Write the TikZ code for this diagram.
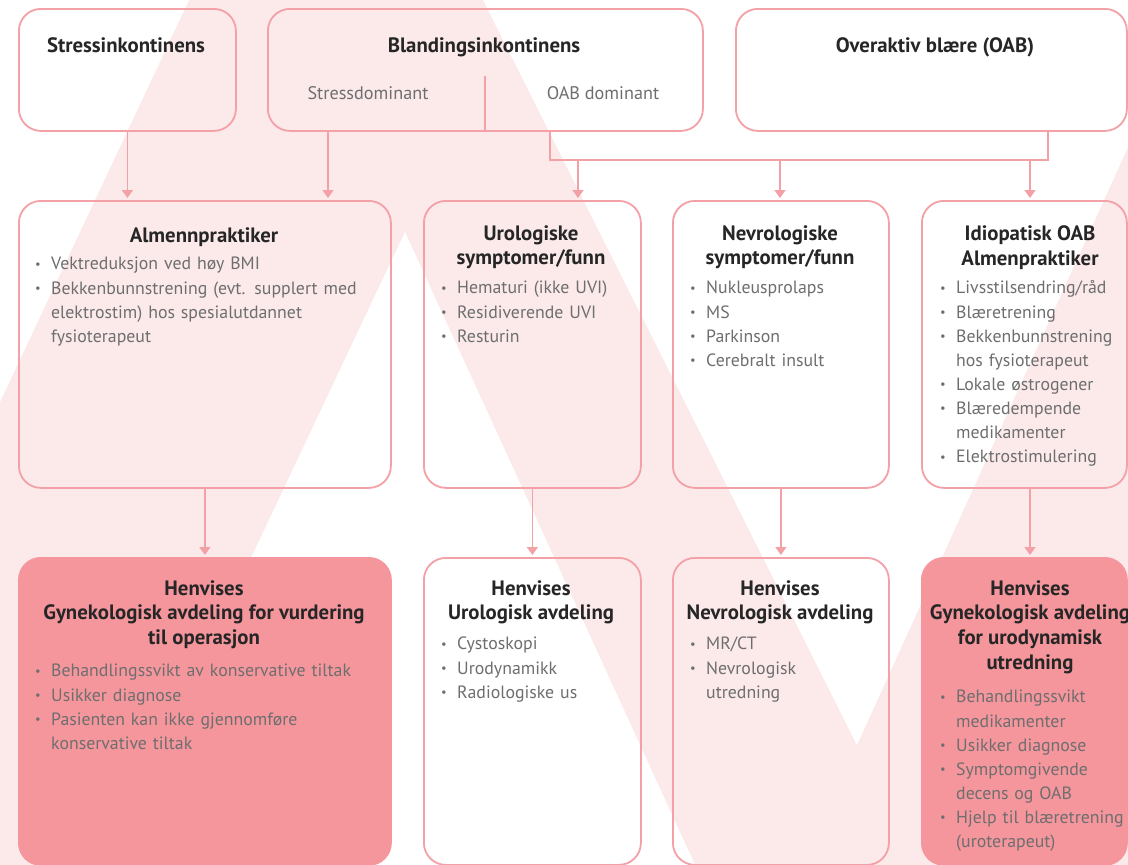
\documentclass[tikz,border=0pt]{standalone}
\usepackage{fontspec}
\setmainfont{PT Sans}
\usetikzlibrary{arrows.meta, positioning}

\definecolor{wmPink}{HTML}{FCEAEB}
\definecolor{lineRed}{HTML}{F3A1A7}
\definecolor{boxRed}{HTML}{F5969D}
\definecolor{titleGray}{HTML}{262626}
\definecolor{itemGray}{HTML}{6E6E6E}

% bullet item with hanging indent
\newcommand{\itm}[1]{\par\hangindent=16pt\hangafter=1\noindent\strut\makebox[16pt][l]{\raisebox{1.5pt}{\scalebox{0.7}{\textbullet}}}#1\par}

\begin{document}
\begin{tikzpicture}[
    x=1pt, y=-1pt,
    box/.style={draw=lineRed, line width=1.8pt, rounded corners=22pt, anchor=north west, inner sep=0pt},
    fullbox/.style={box, draw=boxRed, fill=boxRed},
    title/.style={font=\bfseries\fontsize{20.8}{24.6}\selectfont, text=titleGray, align=center, inner sep=0pt, anchor=north, yshift=14.6pt, execute at begin node=\strut},
    sub/.style={font=\fontsize{18.2}{20}\selectfont, text=itemGray, inner sep=0pt, anchor=base},
    items/.style={font=\fontsize{17.8}{24.1}\selectfont, text=itemGray, text width=#1, align=left, inner sep=0pt, anchor=north west, yshift=23.4pt},
    items/.default=200pt,
    conn/.style={draw=lineRed, line width=1.7pt},
    arrow/.style={conn, -{Triangle[width=11pt,length=8pt]}, shorten >=2pt}
]
\useasboundingbox (0,0) rectangle (1128,865);

% background mark
\fill[wmPink] (0,0) rectangle (1128,865);
\fill[white] (0,0) -- (189,0) -- (0,402) -- cycle;
\fill[white] (405,232) -- (106,865) -- (695,865) -- cycle;
\fill[white] (483,0) -- (1128,0) -- (1128,147) -- (857,745) -- cycle;

% === Row 1: type of incontinence ===
\node[box, minimum width=217pt, minimum height=122pt] (stress) at (18,8) {};
\node[box, minimum width=435pt, minimum height=122pt] (blanding) at (267,8) {};
\node[box, minimum width=391pt, minimum height=122pt] (oab) at (735,8) {};

\node[title] (stressT) at (126,50) {Stressinkontinens};
\node[title] (blandingT) at (484,50) {Blandingsinkontinens};
\node[title] (oabT) at (935,50) {Overaktiv blære (OAB)};
\node[sub] (stressdomT) at (368,99) {Stressdominant};
\node[sub] (oabdomT) at (603,99) {OAB dominant};

% === Row 2: first line ===
\node[box, minimum width=372pt, minimum height=287pt] (almenn) at (18,200) {};
\node[box, minimum width=217pt, minimum height=287pt] (uro) at (423,200) {};
\node[box, minimum width=216pt, minimum height=287pt] (nevro) at (672,200) {};
\node[box, minimum width=205pt, minimum height=287pt] (idio) at (921,200) {};

\node[title] (almennT) at (204,240) {Almennpraktiker};
\node[title] (uroT) at (531,240) {Urologiske\\symptomer/funn};
\node[title] (nevroT) at (780,240) {Nevrologiske\\symptomer/funn};
\node[title] (idioT) at (1030,240) {Idiopatisk OAB\\Almenpraktiker};

\node[items=350pt] (almennL) at (35,269) {%
  \itm{Vektreduksjon ved høy BMI}
  \itm{Bekkenbunnstrening (evt. supplert med\newline elektrostim) hos spesialutdannet\newline fysioterapeut}};
\node[items] (uroL) at (441,293) {%
  \itm{Hematuri (ikke UVI)}
  \itm{Residiverende UVI}
  \itm{Resturin}};
\node[items] (nevroL) at (690,293) {%
  \itm{Nukleusprolaps}
  \itm{MS}
  \itm{Parkinson}
  \itm{Cerebralt insult}};
\node[items] (idioL) at (940,293) {%
  \itm{Livsstilsendring/råd}
  \itm{Blæretrening}
  \itm{Bekkenbunnstrening\newline hos fysioterapeut}
  \itm{Lokale østrogener}
  \itm{Blæredempende\newline medikamenter}
  \itm{Elektrostimulering}};

% === Row 3: referral ===
\node[fullbox, minimum width=372pt, minimum height=307pt] (gynop) at (18,557) {};
\node[box, minimum width=217pt, minimum height=307pt] (urohenv) at (423,557) {};
\node[box, minimum width=216pt, minimum height=307pt] (nevrohenv) at (672,557) {};
\node[fullbox, minimum width=205pt, minimum height=307pt] (gynurod) at (921,557) {};

\node[title] (gynopT) at (204,595) {Henvises\\Gynekologisk avdeling for vurdering\\til operasjon};
\node[title] (urohenvT) at (531,595) {Henvises\\Urologisk avdeling};
\node[title] (nevrohenvT) at (780,595) {Henvises\\Nevrologisk avdeling};
\node[title] (gynurodT) at (1030,595) {Henvises\\Gynekologisk avdeling\\for urodynamisk\\utredning};

\node[items=350pt] (gynopL) at (35,676) {%
  \itm{Behandlingssvikt av konservative tiltak}
  \itm{Usikker diagnose}
  \itm{Pasienten kan ikke gjennomføre\newline konservative tiltak}};
\node[items] (urohenvL) at (441,649) {%
  \itm{Cystoskopi}
  \itm{Urodynamikk}
  \itm{Radiologiske us}};
\node[items] (nevrohenvL) at (690,649) {%
  \itm{MR/CT}
  \itm{Nevrologisk\newline utredning}};
\node[items] (gynurodL) at (940,702) {%
  \itm{Behandlingssvikt\newline medikamenter}
  \itm{Usikker diagnose}
  \itm{Symptomgivende\newline decens og OAB}
  \itm{Hjelp til blæretrening\newline (uroterapeut)}};

% === Connectors ===
\coordinate (divtop) at (485,76);
\coordinate (stressdom) at (328,130);
\coordinate (oabdom) at (550,130);
\coordinate (oabout) at (1048,130);
\coordinate (bus1) at (578,160);
\coordinate (bus2) at (780,160);
\coordinate (bus3) at (1030,160);
\coordinate (idioout) at (1030,487);

\draw[conn] (divtop) -- (divtop |- blanding.south);
\draw[conn] (oabdom) |- (bus1) -- (bus3) -| (oabout);

\draw[arrow] (stress.south) -- (stress.south |- almenn.north);
\draw[arrow] (stressdom) -- (stressdom |- almenn.north);
\draw[arrow] (bus1) -- (bus1 |- uro.north);
\draw[arrow] (bus2) -- (bus2 |- nevro.north);
\draw[arrow] (bus3) -- (bus3 |- idio.north);

\draw[arrow] (almenn.south) -- (gynop.north);
\draw[arrow] (uro.south) -- (urohenv.north);
\draw[arrow] (nevro.south) -- (nevrohenv.north);
\draw[arrow] (idioout) -- (idioout |- gynurod.north);

\end{tikzpicture}
\end{document}
